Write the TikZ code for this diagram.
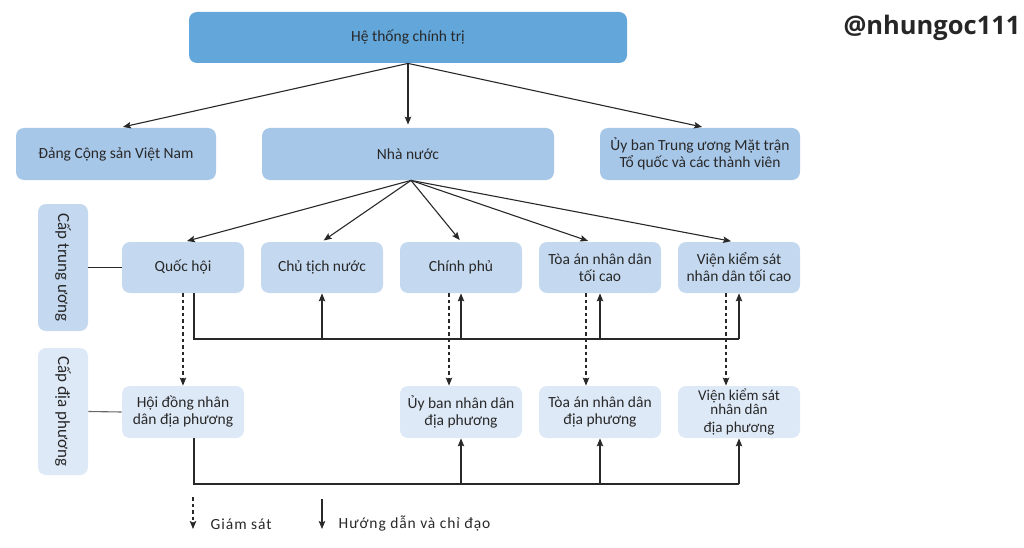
\documentclass[tikz,border=0pt]{standalone}
\usepackage{fontspec}
\setmainfont{Carlito}
\newfontfamily\tagfont{Open Sans}
\usetikzlibrary{arrows.meta}

\definecolor{topblue}{RGB}{98,166,218}
\definecolor{midblue}{RGB}{167,199,233}
\definecolor{rowblue}{RGB}{196,217,240}
\definecolor{lowblue}{RGB}{222,233,247}
\definecolor{ink}{RGB}{40,40,40}

\begin{document}
\begin{tikzpicture}[x=1pt, y=-1pt, thick,
  box/.style={rounded corners=8pt, inner sep=2pt, align=center, text=ink,
    font=\fontsize{15.5}{17}\selectfont},
  link/.style={line width=1.1pt, ink},
  tip/.style={-{Stealth[length=8pt, width=6.5pt, inset=1.5pt]}},
  watch/.style={link, tip, dash pattern=on 3.5pt off 3pt},
  legend/.style={anchor=west, text=ink, font=\addfontfeature{LetterSpace=6}\fontsize{15.5}{17}\selectfont}]

  \useasboundingbox (0,0) rectangle (1024,548);

  % -- Top levels --
  \node[box, fill=topblue, minimum width=438, minimum height=51] (hs) at (408,37.5) {Hệ thống chính trị};
  \node[box, fill=midblue, minimum width=200, minimum height=52] (dang) at (116,154) {Đảng Cộng sản Việt Nam};
  \node[box, fill=midblue, minimum width=292, minimum height=52] (nn) at (408,154) {Nhà nước};
  \node[box, fill=midblue, minimum width=200, minimum height=52] (mt) at (700,154) {Ủy ban Trung ương Mặt trận\\ Tổ quốc và các thành viên};

  % -- Level tags --
  \node[box, fill=rowblue, rotate=-90, minimum width=127, minimum height=50, font=\fontsize{17}{19}\selectfont] (tw) at (63,267.5) {Cấp trung ương};
  \node[box, fill=lowblue, rotate=-90, minimum width=127, minimum height=50, font=\fontsize{17}{19}\selectfont] (dp) at (63,411.5) {Cấp địa phương};

  % -- Central bodies --
  \node[box, fill=rowblue, minimum width=122, minimum height=51] (qh) at (183,267.5) {Quốc hội};
  \node[box, fill=rowblue, minimum width=122, minimum height=51] (ct) at (322,267.5) {Chủ tịch nước};
  \node[box, fill=rowblue, minimum width=122, minimum height=51] (cp) at (461,267.5) {Chính phủ};
  \node[box, fill=rowblue, minimum width=122, minimum height=51] (ta) at (600,267.5) {Tòa án nhân dân\\ tối cao};
  \node[box, fill=rowblue, minimum width=122, minimum height=51] (vks) at (739,267.5) {Viện kiểm sát\\ nhân dân tối cao};

  % -- Local bodies --
  \node[box, fill=lowblue, minimum width=122, minimum height=52] (hd) at (183,412) {Hội đồng nhân\\ dân địa phương};
  \node[box, fill=lowblue, minimum width=122, minimum height=52] (ub) at (461,412) {Ủy ban nhân dân\\ địa phương};
  \node[box, fill=lowblue, minimum width=122, minimum height=52] (tad) at (600,412) {Tòa án nhân dân\\ địa phương};
  \node[box, fill=lowblue, minimum width=122, minimum height=52, font=\fontsize{15}{12.5}\selectfont] (vkd) at (739,412) {Viện kiểm sát\\ nhân dân\\[6pt] địa phương};

  % -- Tree arrows --
  \draw[link, tip, shorten >=3pt] (hs.south) -- ([xshift=4]dang.north);
  \draw[link, tip, shorten >=3pt] (hs.south) -- (nn.north);
  \draw[link, tip, shorten >=3pt] (hs.south) -- ([xshift=5]mt.north);
  \draw[link, tip, shorten >=2pt] ([xshift=3]nn.south) -- ([xshift=2]qh.north);
  \draw[link, tip, shorten >=2pt] ([xshift=3]nn.south) -- (ct.north);
  \draw[link, tip, shorten >=2pt] ([xshift=3]nn.south) -- (cp.north);
  \draw[link, tip, shorten >=2pt] ([xshift=3]nn.south) -- ([xshift=-10]ta.north);
  \draw[link, tip, shorten >=2pt] ([xshift=3]nn.south) -- ([xshift=-6]vks.north);

  % -- Level ties --
  \draw[link] (tw.north) -- (qh.west);
  \draw[link, black!60] (dp.north) -- (hd.west);

  % -- Guidance bus, central --
  \coordinate (busT) at (0,339);
  \draw[link] ([xshift=11]qh.south) |- (busT -| vks.south);
  \foreach \n in {ct,cp,ta,vks}
    \draw[link, tip] (busT -| \n.south) -- (\n.south);

  % -- Guidance bus, local --
  \coordinate (busD) at (0,484);
  \draw[link] ([xshift=11]hd.south) |- (busD -| vkd.south);
  \foreach \n in {ub,tad,vkd}
    \draw[link, tip] (busD -| \n.south) -- (\n.south);

  % -- Supervision --
  \draw[watch] (qh.south) -- (hd.north);
  \draw[watch] ([xshift=-12]cp.south) -- ([xshift=-12]ub.north);
  \draw[watch] ([xshift=-14]ta.south) -- ([xshift=-14]tad.north);
  \draw[watch] ([xshift=-13]vks.south) -- ([xshift=-13]vkd.north);

  % -- Legend --
  \coordinate (gsA) at (193,497);
  \coordinate (gsB) at (193,529);
  \coordinate (hdA) at (322,499);
  \coordinate (hdB) at (322,529);
  \draw[watch] (gsA) -- (gsB);
  \draw[link, tip] (hdA) -- (hdB);
  \node[legend] (gs) at (207,524) {Giám sát};
  \node[legend] (hdcd) at (335,524) {Hướng dẫn và chỉ đạo};

  % -- Tag --
  \node[font=\tagfont\bfseries\fontsize{25.5}{28}\selectfont, text=black!85] (tag) at (932,28) {@nhungoc111};

\end{tikzpicture}
\end{document}
